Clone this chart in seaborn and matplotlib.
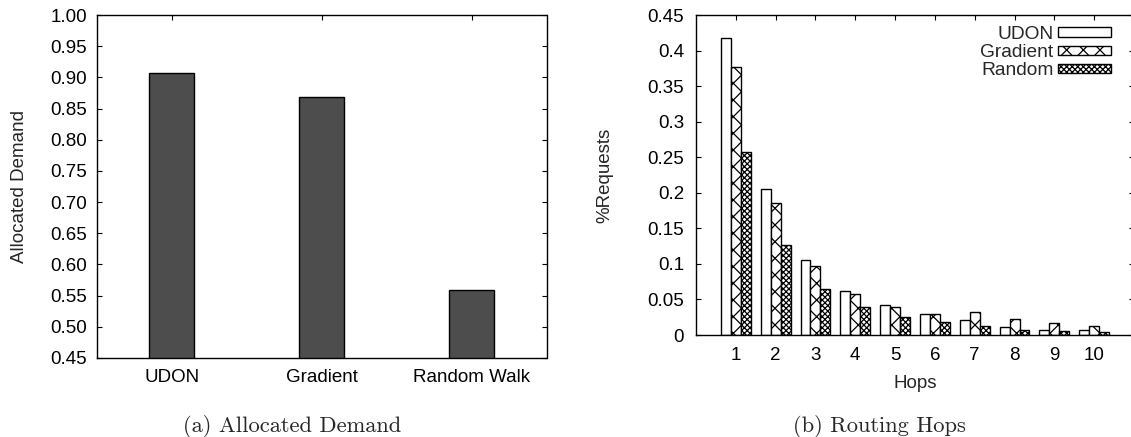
import matplotlib
matplotlib.use("Agg")
import matplotlib.pyplot as plt
from matplotlib.patches import Patch
from matplotlib.ticker import FuncFormatter, MultipleLocator
import numpy as np
import pandas as pd
import seaborn as sns

# ---- data -------------------------------------------------------------
methods = ["UDON", "Gradient", "Random Walk"]
allocated_demand = [0.907, 0.869, 0.559]

hops = [1, 2, 3, 4, 5, 6, 7, 8, 9, 10]
series_names = ["UDON", "Gradient", "Random"]
udon_share = [0.417, 0.206, 0.105, 0.062, 0.042, 0.030, 0.021, 0.011, 0.007, 0.007]
gradient_share = [0.377, 0.186, 0.097, 0.058, 0.039, 0.029, 0.032, 0.022, 0.017, 0.013]
random_share = [0.257, 0.127, 0.064, 0.039, 0.026, 0.018, 0.013, 0.007, 0.005, 0.004]

# ---- style ------------------------------------------------------------
sns.set_style("ticks")
plt.rcParams["font.family"] = ["Liberation Sans", "DejaVu Sans"]
plt.rcParams["font.size"] = 13.5
plt.rcParams["hatch.linewidth"] = 0.9
plt.rcParams["hatch.color"] = "black"
plt.rcParams["axes.edgecolor"] = "black"
plt.rcParams["axes.linewidth"] = 1.0

W, H = 1131, 437
fig = plt.figure(figsize=(W / 100, H / 100), dpi=100)


def px_axes(x0, y0, x1, y1):
    return fig.add_axes([x0 / W, 1 - y1 / H, (x1 - x0) / W, (y1 - y0) / H])


def gnuplot_ticks(ax, pad_x, pad_y):
    ax.tick_params(axis="both", direction="in", length=3.6, width=0.8,
                   top=True, right=True, labeltop=False, labelright=False,
                   colors="black", labelsize=13.5)
    ax.tick_params(axis="x", pad=pad_x)
    ax.tick_params(axis="y", pad=pad_y)
    for s in ax.spines.values():
        s.set_visible(True)
        s.set_color("black")
        s.set_linewidth(1.0)


# ---- (a) allocated demand ---------------------------------------------
ax1 = px_axes(97, 15, 546.5, 358)
sns.barplot(x=methods, y=allocated_demand, color="#4d4d4d", saturation=1,
            width=0.3, edgecolor="black", linewidth=1.0, ax=ax1)
ax1.set_xlim(-0.5, 2.5)
ax1.set_ylim(0.45, 1.00)
ax1.yaxis.set_major_locator(MultipleLocator(0.05))
ax1.yaxis.set_major_formatter(FuncFormatter(lambda v, p: f"{v:.2f}"))
gnuplot_ticks(ax1, pad_x=8, pad_y=7)
ax1.set_ylabel("Allocated Demand", fontsize=13.5)
ax1.yaxis.set_label_coords((20 - 97) / 449.5, 0.5)
ax1.yaxis.label.set_va("center")

# ---- (b) routing hops -------------------------------------------------
df = pd.DataFrame({
    "hop": [str(h) for h in hops] * 3,
    "share": udon_share + gradient_share + random_share,
    "method": np.repeat(series_names, len(hops)),
})
ax2 = px_axes(696, 15, 1134, 335)
sns.barplot(data=df, x="hop", y="share", hue="method",
            order=[str(h) for h in hops], hue_order=series_names,
            palette={n: "white" for n in series_names}, saturation=1,
            width=0.75, edgecolor="black", linewidth=1.0, legend=False, ax=ax2)
hatches = {"UDON": "", "Gradient": "xx", "Random": "xxxxxx"}
for cont, name in zip(ax2.containers, series_names):
    for bar in cont:
        bar.set_hatch(hatches[name])
ax2.set_xlim(-1, 10)
ax2.set_ylim(0, 0.45)
ax2.yaxis.set_major_locator(MultipleLocator(0.05))
ax2.yaxis.set_major_formatter(FuncFormatter(lambda v, p: f"{v:g}"))
gnuplot_ticks(ax2, pad_x=9, pad_y=8.5)
ax2.set_xlabel("Hops", fontsize=13.5)
ax2.xaxis.set_label_coords(0.5, (335 - 383) / 320)
ax2.xaxis.label.set_va("center")
ax2.set_ylabel("%Requests", fontsize=13.5)
ax2.yaxis.set_label_coords((605 - 696) / 438, 0.5)
ax2.yaxis.label.set_va("center")

handles = [Patch(facecolor="white", edgecolor="black", linewidth=1.0,
                 hatch=hatches[n], label=n) for n in series_names]
ax2.legend(handles=handles, loc="upper right", markerfirst=False,
           frameon=False, bbox_to_anchor=(1111 / W, 1 - 26 / H),
           bbox_transform=fig.transFigure, borderpad=0, borderaxespad=0,
           handlelength=2.75, handleheight=0.38, handletextpad=0.25,
           labelspacing=0.06, fontsize=13.8)

# ---- sub-captions -----------------------------------------------------
fig.text(292 / W, 1 - 426 / H, "(a) Allocated Demand", family="cmr10",
         fontsize=16.2, ha="center", va="center")
fig.text(879.5 / W, 1 - 426 / H, "(b) Routing Hops", family="cmr10",
         fontsize=16.2, ha="center", va="center")

fig.savefig("out.png", dpi=100, facecolor="white")
